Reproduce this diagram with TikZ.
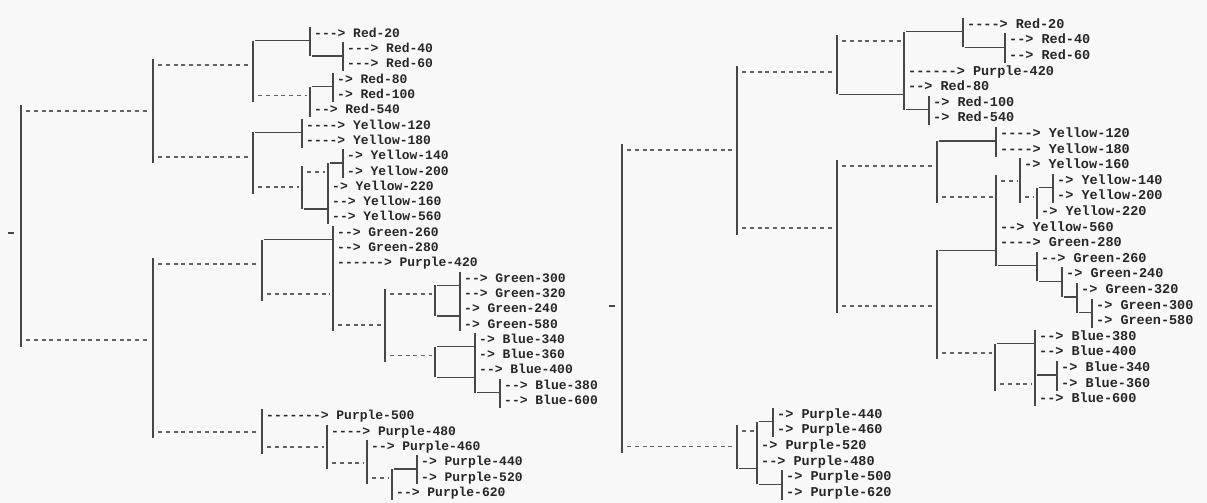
\documentclass[tikz,border=0pt]{standalone}
\usepackage{fontspec}
\setmonofont{Liberation Mono}
\usepackage{tikz}

\definecolor{ink}{HTML}{262626}
\definecolor{wire}{HTML}{474747}
\definecolor{paper}{HTML}{F8F8F8}

\begin{document}
\begin{tikzpicture}[
  x=1pt, y=-1pt,
  bar/.style={draw=wire, line width=1.4pt},
  under/.style={draw=wire, line width=1.2pt, shorten <=1.5pt, shorten >=1.5pt},
  dashlink/.style={draw=wire!85, line width=1.8pt, dash pattern=on 4pt off 3.8pt,
                   shorten <=5pt, shorten >=3pt, yshift=-1.2pt},
  stub/.style={draw=wire, line width=1.6pt, yshift=-1.2pt},
  leaf/.style={anchor=base west, inner sep=0pt, text=ink, yshift=-4.3pt,
               font=\ttfamily\bfseries\fontsize{13}{15}\selectfont}
]
  \fill[paper] (0,0) rectangle (1207,503);

  % left tree
  \begin{scope}[yshift=-33pt, y=-15.3pt]
    \node[leaf] (L-red20) at (314,0) {---> Red-20};
    \node[leaf] (L-red40) at (347,1) {---> Red-40};
    \node[leaf] (L-red60) at (347,2) {---> Red-60};
    \node[leaf] (L-red80) at (337,3) {-> Red-80};
    \node[leaf] (L-red100) at (337,4) {-> Red-100};
    \node[leaf] (L-red540) at (314,5) {--> Red-540};
    \node[leaf] (L-yel120) at (306,6) {----> Yellow-120};
    \node[leaf] (L-yel180) at (306,7) {----> Yellow-180};
    \node[leaf] (L-yel140) at (347,8) {-> Yellow-140};
    \node[leaf] (L-yel200) at (347,9) {-> Yellow-200};
    \node[leaf] (L-yel220) at (332,10) {-> Yellow-220};
    \node[leaf] (L-yel160) at (332,11) {--> Yellow-160};
    \node[leaf] (L-yel560) at (332,12) {--> Yellow-560};
    \node[leaf] (L-grn260) at (337,13) {--> Green-260};
    \node[leaf] (L-grn280) at (337,14) {--> Green-280};
    \node[leaf] (L-pur420) at (337,15) {------> Purple-420};
    \node[leaf] (L-grn300) at (464,16) {--> Green-300};
    \node[leaf] (L-grn320) at (464,17) {--> Green-320};
    \node[leaf] (L-grn240) at (464,18) {-> Green-240};
    \node[leaf] (L-grn580) at (464,19) {-> Green-580};
    \node[leaf] (L-blu340) at (479,20) {-> Blue-340};
    \node[leaf] (L-blu360) at (479,21) {-> Blue-360};
    \node[leaf] (L-blu400) at (479,22) {--> Blue-400};
    \node[leaf] (L-blu380) at (504,23) {--> Blue-380};
    \node[leaf] (L-blu600) at (504,24) {--> Blue-600};
    \node[leaf] (L-pur500) at (266,25) {-------> Purple-500};
    \node[leaf] (L-pur480) at (331,26) {----> Purple-480};
    \node[leaf] (L-pur460) at (371,27) {--> Purple-460};
    \node[leaf] (L-pur440) at (421,28) {-> Purple-440};
    \node[leaf] (L-pur520) at (421,29) {-> Purple-520};
    \node[leaf] (L-pur620) at (396,30) {--> Purple-620};

    \draw[stub] (8,13) -- (14,13);
    \draw[bar] (21,4.7) -- (21,20.5);
    \draw[bar] (153,1.7) -- (153,8.5);
    \draw[bar] (153,14.7) -- (153,26.5);
    \draw[bar] (253,0.5) -- (253,4.5);
    \draw[bar] (310,-0.4) -- (310,1.5);
    \draw[bar] (343,0.6) -- (343,2.5);
    \draw[bar] (333,2.6) -- (333,4.5);
    \draw[bar] (310,3.5) -- (310,5.5);
    \draw[bar] (302,5.6) -- (302,7.5);
    \draw[bar] (253,6.5) -- (253,10.5);
    \draw[bar] (343,7.6) -- (343,9.5);
    \draw[bar] (302,8.7) -- (302,11.5);
    \draw[bar] (328,8.5) -- (328,12.5);
    \draw[bar] (262,13.5) -- (262,17.5);
    \draw[bar] (333,12.6) -- (333,19.5);
    \draw[bar] (385,16.7) -- (385,21.5);
    \draw[bar] (435,16.5) -- (435,18.5);
    \draw[bar] (460,15.6) -- (460,19.5);
    \draw[bar] (435,20.5) -- (435,22.5);
    \draw[bar] (475,19.6) -- (475,23.5);
    \draw[bar] (500,22.6) -- (500,24.5);
    \draw[bar] (262,24.6) -- (262,27.5);
    \draw[bar] (327,25.6) -- (327,28.5);
    \draw[bar] (367,26.6) -- (367,29.5);
    \draw[bar] (392,28.5) -- (392,30.5);
    \draw[bar] (417,27.6) -- (417,29.5);

    \draw[dashlink] (21,5) -- (153,5);
    \draw[dashlink] (21,20) -- (153,20);
    \draw[dashlink] (153,2) -- (253,2);
    \draw[dashlink] (153,8) -- (253,8);
    \draw[dashlink] (253,4) -- (310,4);
    \draw[dashlink] (253,10) -- (302,10);
    \draw[dashlink] (302,9) -- (328,9);
    \draw[dashlink] (153,15) -- (262,15);
    \draw[dashlink] (153,26) -- (262,26);
    \draw[dashlink] (262,17) -- (333,17);
    \draw[dashlink] (333,19) -- (385,19);
    \draw[dashlink] (385,17) -- (435,17);
    \draw[dashlink] (385,21) -- (435,21);
    \draw[dashlink] (262,27) -- (327,27);
    \draw[dashlink] (327,28) -- (367,28);
    \draw[dashlink] (367,29) -- (392,29);

    \draw[under] (253,0.5) -- (310,0.5);
    \draw[under] (310,1.5) -- (343,1.5);
    \draw[under] (310,3.5) -- (333,3.5);
    \draw[under] (253,6.5) -- (302,6.5);
    \draw[under] (328,8.5) -- (343,8.5);
    \draw[under] (302,11.5) -- (328,11.5);
    \draw[under] (262,13.5) -- (333,13.5);
    \draw[under] (435,16.5) -- (460,16.5);
    \draw[under] (435,18.5) -- (460,18.5);
    \draw[under] (435,20.5) -- (475,20.5);
    \draw[under] (435,22.5) -- (475,22.5);
    \draw[under] (475,23.5) -- (500,23.5);
    \draw[under] (392,28.5) -- (417,28.5);
  \end{scope}

  % right tree
  \begin{scope}[yshift=-24pt, y=-15.6pt,
                leaf/.append style={font=\ttfamily\bfseries\fontsize{13.5}{15}\selectfont}]
    \node[leaf] (R-red20) at (967,0) {----> Red-20};
    \node[leaf] (R-red40) at (1009,1) {--> Red-40};
    \node[leaf] (R-red60) at (1009,2) {--> Red-60};
    \node[leaf] (R-pur420) at (908,3) {------> Purple-420};
    \node[leaf] (R-red80) at (908,4) {--> Red-80};
    \node[leaf] (R-red100) at (933,5) {-> Red-100};
    \node[leaf] (R-red540) at (933,6) {-> Red-540};
    \node[leaf] (R-yel120) at (1000,7) {----> Yellow-120};
    \node[leaf] (R-yel180) at (1000,8) {----> Yellow-180};
    \node[leaf] (R-yel160) at (1024,9) {-> Yellow-160};
    \node[leaf] (R-yel140) at (1057,10) {-> Yellow-140};
    \node[leaf] (R-yel200) at (1057,11) {-> Yellow-200};
    \node[leaf] (R-yel220) at (1041,12) {-> Yellow-220};
    \node[leaf] (R-yel560) at (1000,13) {--> Yellow-560};
    \node[leaf] (R-grn280) at (1000,14) {----> Green-280};
    \node[leaf] (R-grn260) at (1041,15) {--> Green-260};
    \node[leaf] (R-grn240) at (1066,16) {-> Green-240};
    \node[leaf] (R-grn320) at (1081,17) {-> Green-320};
    \node[leaf] (R-grn300) at (1096,18) {-> Green-300};
    \node[leaf] (R-grn580) at (1096,19) {-> Green-580};
    \node[leaf] (R-blu380) at (1039,20) {--> Blue-380};
    \node[leaf] (R-blu400) at (1039,21) {--> Blue-400};
    \node[leaf] (R-blu340) at (1061,22) {-> Blue-340};
    \node[leaf] (R-blu360) at (1061,23) {-> Blue-360};
    \node[leaf] (R-blu600) at (1039,24) {--> Blue-600};
    \node[leaf] (R-pur440) at (777,25) {-> Purple-440};
    \node[leaf] (R-pur460) at (777,26) {-> Purple-460};
    \node[leaf] (R-pur520) at (761,27) {-> Purple-520};
    \node[leaf] (R-pur480) at (761,28) {--> Purple-480};
    \node[leaf] (R-pur500) at (786,29) {-> Purple-500};
    \node[leaf] (R-pur620) at (786,30) {-> Purple-620};

    \draw[stub] (609,18) -- (615,18);
    \draw[bar] (622,7.7) -- (622,27.5);
    \draw[bar] (737,2.7) -- (737,13.5);
    \draw[bar] (737,25.7) -- (737,28.5);
    \draw[bar] (837,0.7) -- (837,4.5);
    \draw[bar] (837,8.7) -- (837,18.5);
    \draw[bar] (904,0.5) -- (904,5.5);
    \draw[bar] (963,-0.4) -- (963,1.5);
    \draw[bar] (1005,0.6) -- (1005,2.5);
    \draw[bar] (929,4.6) -- (929,6.5);
    \draw[bar] (937,7.5) -- (937,11.5);
    \draw[bar] (996,6.6) -- (996,8.5);
    \draw[bar] (996,9.7) -- (996,15.5);
    \draw[bar] (1020,8.6) -- (1020,11.5);
    \draw[bar] (1037,10.5) -- (1037,12.5);
    \draw[bar] (1053,9.6) -- (1053,11.5);
    \draw[bar] (937,14.5) -- (937,21.5);
    \draw[bar] (1037,14.6) -- (1037,16.5);
    \draw[bar] (1062,15.6) -- (1062,17.5);
    \draw[bar] (1077,16.6) -- (1077,18.5);
    \draw[bar] (1092,17.6) -- (1092,19.5);
    \draw[bar] (995,20.5) -- (995,23.5);
    \draw[bar] (1035,19.6) -- (1035,24.5);
    \draw[bar] (1057,21.6) -- (1057,23.5);
    \draw[bar] (757,25.5) -- (757,29.5);
    \draw[bar] (773,24.6) -- (773,26.5);
    \draw[bar] (782,28.6) -- (782,30.5);

    \draw[dashlink] (622,8) -- (737,8);
    \draw[dashlink] (622,27) -- (737,27);
    \draw[dashlink] (737,3) -- (837,3);
    \draw[dashlink] (737,13) -- (837,13);
    \draw[dashlink] (837,1) -- (904,1);
    \draw[dashlink] (837,9) -- (937,9);
    \draw[dashlink] (837,18) -- (937,18);
    \draw[dashlink] (937,11) -- (996,11);
    \draw[dashlink] (996,10) -- (1020,10);
    \draw[dashlink] (1020,11) -- (1037,11);
    \draw[dashlink] (937,21) -- (995,21);
    \draw[dashlink] (995,23) -- (1035,23);
    \draw[dashlink] (737,26) -- (757,26);

    \draw[under] (904,0.5) -- (963,0.5);
    \draw[under] (963,1.5) -- (1005,1.5);
    \draw[under] (837,4.5) -- (904,4.5);
    \draw[under] (904,5.5) -- (929,5.5);
    \draw[under] (937,7.5) -- (996,7.5);
    \draw[under] (1037,10.5) -- (1053,10.5);
    \draw[under] (937,14.5) -- (996,14.5);
    \draw[under] (996,15.5) -- (1037,15.5);
    \draw[under] (1037,16.5) -- (1062,16.5);
    \draw[under] (1062,17.5) -- (1077,17.5);
    \draw[under] (1077,18.5) -- (1092,18.5);
    \draw[under] (995,20.5) -- (1035,20.5);
    \draw[under] (1035,22.5) -- (1057,22.5);
    \draw[under] (757,25.5) -- (773,25.5);
    \draw[under] (737,28.5) -- (757,28.5);
    \draw[under] (757,29.5) -- (782,29.5);
  \end{scope}
\end{tikzpicture}
\end{document}
